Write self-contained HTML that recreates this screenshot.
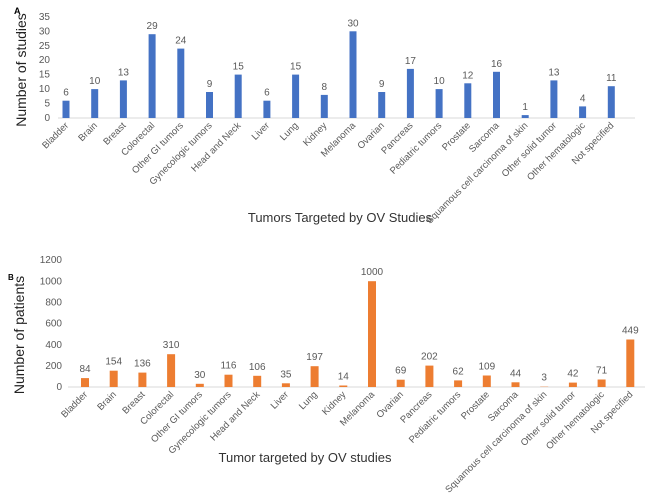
<!DOCTYPE html>
<html><head><style>
body{margin:0;background:#fff;}
svg{display:block;font-family:"Liberation Sans",sans-serif;}
.v{font-size:10px;fill:#595959;text-anchor:middle}
.c{font-size:9.5px;fill:#595959;text-anchor:end}
.a{fill:#4472c4}.b{fill:#ed7d31}
</style></head><body>
<svg width="650" height="500" viewBox="0 0 650 500">
<g font-size="10" fill="#595959">
<text x="14" y="14" font-size="9" font-weight="bold" fill="#000">A</text>
<text transform="translate(26,70) rotate(-90)" text-anchor="middle" font-size="14" fill="#222">Number of studies</text>
<g text-anchor="end">
<text x="50" y="121">0</text><text x="50" y="106.6">5</text><text x="50" y="92.1">10</text><text x="50" y="77.7">15</text><text x="50" y="63.2">20</text><text x="50" y="48.8">25</text><text x="50" y="34.3">30</text><text x="50" y="19.9">35</text>
</g>
<line x1="58" y1="118" x2="635" y2="118" stroke="#d9d9d9"/>
<text x="340" y="222" text-anchor="middle" font-size="13" fill="#333">Tumors Targeted by OV Studies</text>
</g>
<g font-size="10" fill="#595959">
<text x="8" y="280" font-size="8" font-weight="bold" fill="#000">B</text>
<text transform="translate(24,335) rotate(-90)" text-anchor="middle" font-size="14" fill="#222">Number of patients</text>
<g text-anchor="end">
<text x="62" y="390">0</text><text x="62" y="369">200</text><text x="62" y="347.8">400</text><text x="62" y="326.7">600</text><text x="62" y="305.5">800</text><text x="62" y="284.3">1000</text><text x="62" y="263.2">1200</text>
</g>
<line x1="68" y1="387" x2="645" y2="387" stroke="#d9d9d9"/>
<text x="305" y="462" text-anchor="middle" font-size="13" fill="#333">Tumor targeted by OV studies</text>
</g>

<!-- Chart A bars -->
<g transform="translate(66,0)"><rect class="a" x="-3.5" y="100.7" width="7" height="17.3"/><text class="v" y="95.7">6</text><text class="c" transform="translate(3,126) rotate(-45)">Bladder</text></g>
<g transform="translate(94.7,0)"><rect class="a" x="-3.5" y="89.1" width="7" height="28.9"/><text class="v" y="84.1">10</text><text class="c" transform="translate(3,126) rotate(-45)">Brain</text></g>
<g transform="translate(123.4,0)"><rect class="a" x="-3.5" y="80.4" width="7" height="37.6"/><text class="v" y="75.4">13</text><text class="c" transform="translate(3,126) rotate(-45)">Breast</text></g>
<g transform="translate(152.1,0)"><rect class="a" x="-3.5" y="34.2" width="7" height="83.8"/><text class="v" y="29.2">29</text><text class="c" transform="translate(3,126) rotate(-45)">Colorectal</text></g>
<g transform="translate(180.8,0)"><rect class="a" x="-3.5" y="48.6" width="7" height="69.4"/><text class="v" y="43.6">24</text><text class="c" transform="translate(3,126) rotate(-45)">Other GI tumors</text></g>
<g transform="translate(209.5,0)"><rect class="a" x="-3.5" y="92" width="7" height="26"/><text class="v" y="87">9</text><text class="c" transform="translate(3,126) rotate(-45)">Gynecologic tumors</text></g>
<g transform="translate(238.2,0)"><rect class="a" x="-3.5" y="74.6" width="7" height="43.4"/><text class="v" y="69.6">15</text><text class="c" transform="translate(3,126) rotate(-45)">Head and Neck</text></g>
<g transform="translate(266.9,0)"><rect class="a" x="-3.5" y="100.7" width="7" height="17.3"/><text class="v" y="95.7">6</text><text class="c" transform="translate(3,126) rotate(-45)">Liver</text></g>
<g transform="translate(295.6,0)"><rect class="a" x="-3.5" y="74.6" width="7" height="43.4"/><text class="v" y="69.6">15</text><text class="c" transform="translate(3,126) rotate(-45)">Lung</text></g>
<g transform="translate(324.3,0)"><rect class="a" x="-3.5" y="94.9" width="7" height="23.1"/><text class="v" y="89.9">8</text><text class="c" transform="translate(3,126) rotate(-45)">Kidney</text></g>
<g transform="translate(353,0)"><rect class="a" x="-3.5" y="31.3" width="7" height="86.7"/><text class="v" y="26.3">30</text><text class="c" transform="translate(3,126) rotate(-45)">Melanoma</text></g>
<g transform="translate(381.7,0)"><rect class="a" x="-3.5" y="92" width="7" height="26"/><text class="v" y="87">9</text><text class="c" transform="translate(3,126) rotate(-45)">Ovarian</text></g>
<g transform="translate(410.4,0)"><rect class="a" x="-3.5" y="68.9" width="7" height="49.1"/><text class="v" y="63.9">17</text><text class="c" transform="translate(3,126) rotate(-45)">Pancreas</text></g>
<g transform="translate(439.1,0)"><rect class="a" x="-3.5" y="89.1" width="7" height="28.9"/><text class="v" y="84.1">10</text><text class="c" transform="translate(3,126) rotate(-45)">Pediatric tumors</text></g>
<g transform="translate(467.8,0)"><rect class="a" x="-3.5" y="83.3" width="7" height="34.7"/><text class="v" y="78.3">12</text><text class="c" transform="translate(3,126) rotate(-45)">Prostate</text></g>
<g transform="translate(496.5,0)"><rect class="a" x="-3.5" y="71.8" width="7" height="46.2"/><text class="v" y="66.8">16</text><text class="c" transform="translate(3,126) rotate(-45)">Sarcoma</text></g>
<g transform="translate(525.2,0)"><rect class="a" x="-3.5" y="115.1" width="7" height="2.9"/><text class="v" y="110.1">1</text><text class="c" transform="translate(3,126) rotate(-45)">Squamous cell carcinoma of skin</text></g>
<g transform="translate(553.9,0)"><rect class="a" x="-3.5" y="80.4" width="7" height="37.6"/><text class="v" y="75.4">13</text><text class="c" transform="translate(3,126) rotate(-45)">Other solid tumor</text></g>
<g transform="translate(582.6,0)"><rect class="a" x="-3.5" y="106.4" width="7" height="11.6"/><text class="v" y="101.4">4</text><text class="c" transform="translate(3,126) rotate(-45)">Other hematologic</text></g>
<g transform="translate(611.3,0)"><rect class="a" x="-3.5" y="86.2" width="7" height="31.8"/><text class="v" y="81.2">11</text><text class="c" transform="translate(3,126) rotate(-45)">Not specified</text></g>

<!-- Chart B bars -->
<g transform="translate(85,0)"><rect class="b" x="-4" y="378.1" width="8" height="8.9"/><text class="v" y="372.1">84</text><text class="c" transform="translate(3,395) rotate(-45)">Bladder</text></g>
<g transform="translate(113.7,0)"><rect class="b" x="-4" y="370.7" width="8" height="16.3"/><text class="v" y="364.7">154</text><text class="c" transform="translate(3,395) rotate(-45)">Brain</text></g>
<g transform="translate(142.4,0)"><rect class="b" x="-4" y="372.6" width="8" height="14.4"/><text class="v" y="366.6">136</text><text class="c" transform="translate(3,395) rotate(-45)">Breast</text></g>
<g transform="translate(171.1,0)"><rect class="b" x="-4" y="354.2" width="8" height="32.8"/><text class="v" y="348.2">310</text><text class="c" transform="translate(3,395) rotate(-45)">Colorectal</text></g>
<g transform="translate(199.8,0)"><rect class="b" x="-4" y="383.8" width="8" height="3.2"/><text class="v" y="377.8">30</text><text class="c" transform="translate(3,395) rotate(-45)">Other GI tumors</text></g>
<g transform="translate(228.5,0)"><rect class="b" x="-4" y="374.7" width="8" height="12.3"/><text class="v" y="368.7">116</text><text class="c" transform="translate(3,395) rotate(-45)">Gynecologic tumors</text></g>
<g transform="translate(257.2,0)"><rect class="b" x="-4" y="375.8" width="8" height="11.2"/><text class="v" y="369.8">106</text><text class="c" transform="translate(3,395) rotate(-45)">Head and Neck</text></g>
<g transform="translate(285.9,0)"><rect class="b" x="-4" y="383.3" width="8" height="3.7"/><text class="v" y="377.3">35</text><text class="c" transform="translate(3,395) rotate(-45)">Liver</text></g>
<g transform="translate(314.6,0)"><rect class="b" x="-4" y="366.2" width="8" height="20.8"/><text class="v" y="360.2">197</text><text class="c" transform="translate(3,395) rotate(-45)">Lung</text></g>
<g transform="translate(343.3,0)"><rect class="b" x="-4" y="385.5" width="8" height="1.5"/><text class="v" y="379.5">14</text><text class="c" transform="translate(3,395) rotate(-45)">Kidney</text></g>
<g transform="translate(372,0)"><rect class="b" x="-4" y="281.2" width="8" height="105.8"/><text class="v" y="275.2">1000</text><text class="c" transform="translate(3,395) rotate(-45)">Melanoma</text></g>
<g transform="translate(400.7,0)"><rect class="b" x="-4" y="379.7" width="8" height="7.3"/><text class="v" y="373.7">69</text><text class="c" transform="translate(3,395) rotate(-45)">Ovarian</text></g>
<g transform="translate(429.4,0)"><rect class="b" x="-4" y="365.6" width="8" height="21.4"/><text class="v" y="359.6">202</text><text class="c" transform="translate(3,395) rotate(-45)">Pancreas</text></g>
<g transform="translate(458.1,0)"><rect class="b" x="-4" y="380.4" width="8" height="6.6"/><text class="v" y="374.4">62</text><text class="c" transform="translate(3,395) rotate(-45)">Pediatric tumors</text></g>
<g transform="translate(486.8,0)"><rect class="b" x="-4" y="375.5" width="8" height="11.5"/><text class="v" y="369.5">109</text><text class="c" transform="translate(3,395) rotate(-45)">Prostate</text></g>
<g transform="translate(515.5,0)"><rect class="b" x="-4" y="382.3" width="8" height="4.7"/><text class="v" y="376.3">44</text><text class="c" transform="translate(3,395) rotate(-45)">Sarcoma</text></g>
<g transform="translate(544.2,0)"><rect class="b" x="-4" y="386.7" width="8" height="0.3"/><text class="v" y="380.7">3</text><text class="c" transform="translate(3,395) rotate(-45)">Squamous cell carcinoma of skin</text></g>
<g transform="translate(572.9,0)"><rect class="b" x="-4" y="382.6" width="8" height="4.4"/><text class="v" y="376.6">42</text><text class="c" transform="translate(3,395) rotate(-45)">Other solid tumor</text></g>
<g transform="translate(601.6,0)"><rect class="b" x="-4" y="379.5" width="8" height="7.5"/><text class="v" y="373.5">71</text><text class="c" transform="translate(3,395) rotate(-45)">Other hematologic</text></g>
<g transform="translate(630.3,0)"><rect class="b" x="-4" y="339.5" width="8" height="47.5"/><text class="v" y="333.5">449</text><text class="c" transform="translate(3,395) rotate(-45)">Not specified</text></g>
</svg>
</body></html>
